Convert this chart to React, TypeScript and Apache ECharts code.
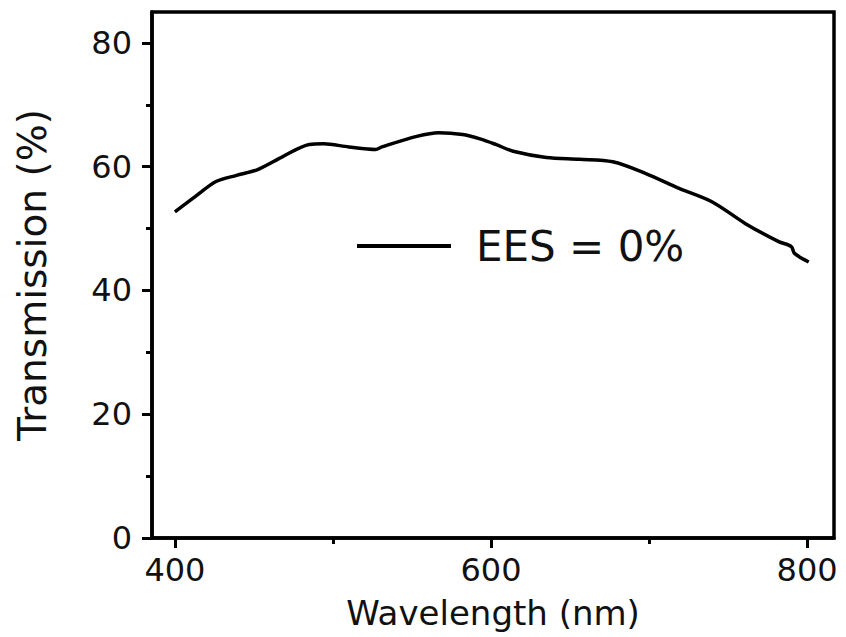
import React, { useEffect, useRef } from "react";
import * as echarts from "echarts";

const wavelength = [400, 413, 426, 439, 452, 468, 485, 494, 510, 527, 531, 553, 567, 582, 593, 603, 614, 635, 656, 677, 698, 719, 740, 761, 782, 790, 792, 801];
const transmission = [52.7, 55.2, 57.6, 58.6, 59.5, 61.6, 63.6, 63.7, 63.2, 62.8, 63.2, 64.9, 65.5, 65.2, 64.5, 63.6, 62.5, 61.5, 61.2, 60.8, 58.9, 56.5, 54.3, 50.8, 47.9, 47.1, 46.0, 44.6];
const xTicks = [400, 600, 800];
const yTicks = [0, 20, 40, 60, 80];
const seriesName = "EES = 0%";

const FONT = "DejaVu Sans";

export default function App() {
  const ref = useRef<HTMLDivElement>(null);
  useEffect(() => {
    if (!ref.current) return;
    const chart = echarts.init(ref.current, null, { renderer: "svg" });
    const data = wavelength.map((w, i) => [w, transmission[i]]);
    chart.setOption({
      animation: false,
      backgroundColor: "#ffffff",
      grid: {
        left: 152,
        right: 12,
        top: 12,
        bottom: 99,
        show: true,
        borderColor: "#000",
        borderWidth: 3.5,
        backgroundColor: "transparent",
      },
      legend: {
        show: true,
        left: 352,
        top: 220,
        icon: "rect",
        itemWidth: 94,
        itemHeight: 4,
        data: [seriesName],
        textStyle: {
          fontFamily: FONT,
          fontSize: 42,
          color: "#111",
          padding: [0, 0, 0, 20],
        },
      },
      xAxis: {
        type: "value",
        min: 385.5,
        max: 817,
        splitNumber: 2,
        name: "Wavelength (nm)",
        nameLocation: "middle",
        nameGap: 58,
        nameTextStyle: { fontFamily: FONT, fontSize: 34, color: "#111" },
        axisLine: { show: true, lineStyle: { color: "#000", width: 3.5 } },
        axisTick: { show: true, inside: false, length: 10, customValues: xTicks, lineStyle: { color: "#000", width: 3 } },
        minorTick: { show: true, splitNumber: 2, length: 6, lineStyle: { color: "#000", width: 3 } },
        axisLabel: { customValues: xTicks, margin: 16, fontFamily: FONT, fontSize: 32, color: "#111" },
        splitLine: { show: false },
        minorSplitLine: { show: false },
      },
      yAxis: {
        type: "value",
        min: 0,
        max: 85,
        interval: 20,
        name: "Transmission (%)",
        nameLocation: "middle",
        nameGap: 100,
        nameTextStyle: { fontFamily: FONT, fontSize: 39, color: "#111" },
        axisLine: { show: true, lineStyle: { color: "#000", width: 3.5 } },
        axisTick: { show: true, inside: false, length: 10, customValues: yTicks, lineStyle: { color: "#000", width: 3 } },
        minorTick: { show: true, splitNumber: 2, length: 6, lineStyle: { color: "#000", width: 3 } },
        axisLabel: { customValues: yTicks, margin: 20, fontFamily: FONT, fontSize: 32, color: "#111" },
        splitLine: { show: false },
        minorSplitLine: { show: false },
      },
      series: [
        {
          name: seriesName,
          type: "line",
          data,
          symbol: "none",
          smooth: 0.3,
          lineStyle: { color: "#000", width: 3.5 },
          itemStyle: { color: "#000" },
        },
      ],
    });
    return () => chart.dispose();
  }, []);
  return <div ref={ref} style={{ width: 846, height: 637, position: "absolute", left: 0, top: 0 }} />;
}
